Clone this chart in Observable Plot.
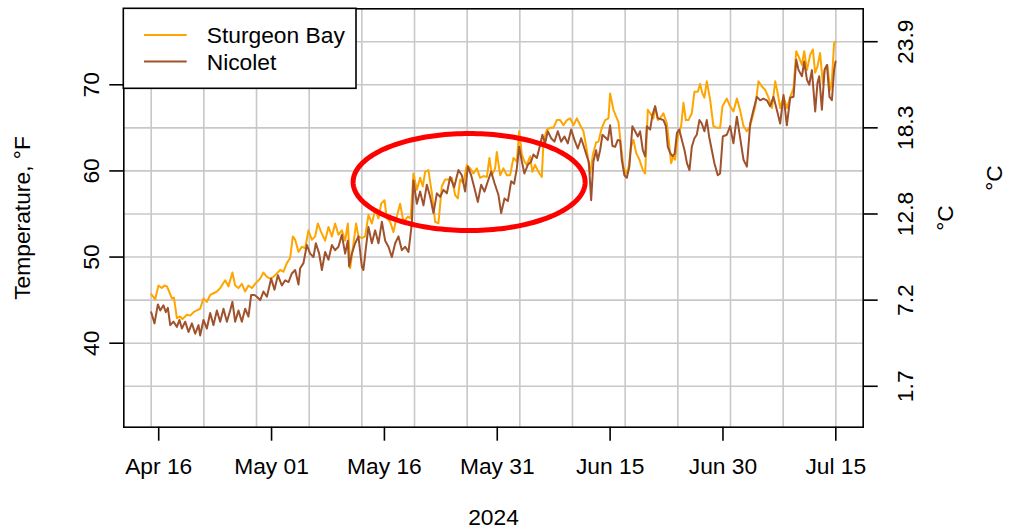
<!DOCTYPE html>
<html><head><meta charset="utf-8">
<script src="https://cdn.jsdelivr.net/npm/d3@7"></script>
<script src="https://cdn.jsdelivr.net/npm/@observablehq/plot@0.6"></script>
<style>
html,body{margin:0;padding:0;background:#fff;}
#wrap{position:relative;width:1018px;height:531px;}
#legend{position:absolute;left:0;top:0;pointer-events:none;}
</style></head><body><div id="wrap"></div>
<script>
// Day offsets measured from 2024-04-15 00:00 UTC
const sbDay = [0.0,0.53,0.97,1.42,1.77,2.09,2.39,2.75,3.02,3.42,3.85,4.16,4.74,5.18,5.62,6.07,6.51,6.95,7.40,7.84,8.28,8.73,9.17,9.83,10.27,10.80,11.16,11.60,12.05,12.49,12.93,13.38,13.82,14.49,14.92,15.38,15.82,16.25,16.71,17.14,17.58,18.03,18.47,18.83,19.14,19.58,20.03,20.47,20.90,21.36,21.80,22.15,22.59,23.12,23.56,24.02,24.45,24.89,25.34,25.78,26.14,26.45,26.89,27.24,27.55,28.00,28.44,28.88,29.33,29.77,30.21,30.57,31.01,31.32,31.76,32.20,32.65,33.09,33.53,34.12,34.49,34.86,35.31,35.75,36.11,36.41,36.85,37.31,37.74,38.18,38.63,39.07,39.51,39.96,40.40,40.76,41.07,41.50,41.96,42.40,42.83,43.29,43.72,44.16,44.62,44.96,45.28,45.72,45.94,46.38,46.82,47.27,47.71,48.15,48.60,48.91,49.27,49.61,49.93,50.37,50.67,51.03,51.47,51.92,52.14,52.59,53.03,53.47,53.92,54.36,54.80,55.25,55.69,56.13,56.58,57.02,57.46,57.91,58.35,58.71,59.14,59.45,59.90,60.34,60.78,61.00,61.44,61.80,62.11,62.46,62.77,63.09,63.43,63.79,64.10,64.46,64.90,65.35,65.66,66.01,66.32,66.76,66.98,67.34,67.78,68.09,68.54,68.84,69.11,69.42,69.64,70.00,70.44,70.75,71.07,71.41,71.86,72.21,72.66,72.96,73.27,73.53,73.85,74.29,74.73,75.18,75.62,75.93,76.51,76.95,77.39,77.85,78.29,78.73,79.18,79.62,80.29,80.72,81.18,81.62,82.06,82.51,82.95,83.28,83.61,84.05,84.51,84.94,85.38,85.74,86.05,86.50,86.80,87.16,87.60,87.95,88.25,88.56,88.91,89.27,89.57,89.88,90.24,90.46,90.77,90.97];
const sbTemp = [45.7,45.1,46.7,46.4,46.7,46.6,46.0,45.2,45.3,42.9,43.1,42.8,43.3,43.2,43.6,43.8,44.0,45.2,44.8,45.6,45.8,46.0,46.4,47.3,46.6,48.2,46.7,46.4,46.9,46.0,46.7,46.4,46.9,47.5,48.2,47.7,47.5,47.7,48.1,48.5,48.3,49.3,49.9,52.4,52.0,50.6,51.2,51.0,53.1,52.0,52.4,53.9,52.9,51.9,53.5,52.4,53.9,52.6,53.1,51.9,53.9,48.7,51.6,53.9,52.4,52.2,52.4,54.9,53.9,55.5,54.5,56.2,56.6,54.5,54.1,52.9,54.7,56.2,54.1,54.7,54.5,59.7,57.8,59.2,58.2,59.9,60.1,57.4,54.1,53.9,58.2,59.0,59.0,59.2,57.2,56.8,59.0,58.6,60.7,60.3,59.7,60.3,59.2,59.4,59.3,61.5,59.5,60.3,62.2,59.5,60.3,59.5,59.5,61.5,61.1,64.6,61.9,61.1,60.7,61.7,59.9,60.7,59.9,59.3,63.4,64.8,65.0,65.0,65.9,65.9,65.3,65.9,66.1,65.3,66.1,65.3,64.6,62.4,59.7,61.9,63.3,63.4,65.0,65.9,66.1,69.0,67.1,66.3,65.7,62.8,60.5,59.7,60.3,62.8,63.6,62.1,61.3,60.1,59.7,67.1,66.7,66.1,67.5,65.9,66.3,66.7,65.5,63.2,60.9,61.7,61.3,64.0,65.2,67.9,65.9,65.9,66.7,69.2,69.2,70.1,69.0,68.5,70.4,68.3,65.2,65.0,65.0,67.5,68.4,67.5,66.9,68.4,67.0,65.2,64.6,65.2,67.5,70.4,69.8,69.4,68.5,67.3,70.4,69.0,67.3,68.6,67.3,68.6,69.6,73.9,73.3,72.3,73.9,71.7,73.5,74.1,71.4,72.1,73.7,70.2,71.9,72.3,69.4,70.2,74.8,75.0];
const nicDay = [0.0,0.44,0.89,1.20,1.63,1.95,2.22,2.53,2.96,3.42,3.76,4.08,4.52,4.96,5.41,5.85,6.29,6.51,6.95,7.40,7.84,8.28,8.73,9.17,9.61,10.06,10.50,10.80,11.16,11.60,12.05,12.49,12.93,13.29,13.73,14.05,14.49,14.92,15.38,15.95,16.39,16.84,17.37,17.81,18.25,18.70,19.14,19.58,19.80,20.24,20.69,21.13,21.57,21.89,22.33,22.69,23.12,23.56,24.02,24.45,24.89,25.34,25.78,26.14,26.31,26.67,27.11,27.55,28.00,28.21,28.53,28.88,29.33,29.77,30.21,30.66,31.10,31.54,31.99,32.43,32.87,33.32,33.76,34.20,34.65,34.86,35.31,35.75,36.19,36.64,37.08,37.52,37.97,38.41,38.85,39.30,39.74,40.27,40.84,41.29,41.73,42.09,42.53,42.97,43.42,43.86,44.30,44.75,45.19,45.63,46.16,46.52,46.96,47.41,47.85,48.24,48.60,48.91,49.27,49.61,50.06,50.50,50.81,51.26,51.70,52.00,52.36,52.72,53.16,53.60,54.05,54.49,54.93,55.38,55.82,56.26,56.71,57.15,57.59,57.91,58.17,58.48,58.78,59.14,59.36,59.67,59.98,60.34,60.70,61.00,61.31,61.67,62.02,62.33,62.55,62.90,63.22,63.56,63.96,64.32,64.68,64.99,65.35,65.66,65.88,66.32,66.63,66.98,67.34,67.78,68.09,68.41,68.67,68.98,69.29,69.58,69.88,70.18,70.54,70.89,71.21,71.55,71.86,72.21,72.52,72.87,73.19,73.53,73.85,74.16,74.52,74.86,75.31,75.62,75.98,76.51,76.95,77.39,77.85,78.29,78.73,79.18,79.62,80.06,80.51,80.94,81.38,81.83,82.27,82.71,83.16,83.60,84.05,84.49,84.94,85.38,85.74,86.05,86.50,86.80,87.16,87.47,87.82,88.26,88.56,88.79,89.15,89.50,89.82,90.16,90.48,90.77,90.97];
const nicTemp = [43.6,42.3,44.5,43.8,44.4,43.6,44.1,42.1,42.5,41.9,42.7,41.7,42.5,41.3,42.3,41.1,42.1,40.9,42.7,41.7,43.5,42.1,43.8,42.5,44.0,42.5,43.8,44.8,42.5,43.8,42.5,44.0,43.1,45.6,45.6,45.4,45.0,46.0,45.4,47.5,46.2,47.9,46.7,47.3,47.1,48.1,48.5,46.8,48.7,49.3,51.4,50.4,50.0,51.6,50.4,48.5,50.6,49.7,51.4,50.8,51.2,52.6,50.4,51.9,48.9,50.4,51.6,52.4,48.9,48.5,51.0,53.5,51.6,53.1,51.6,54.1,51.9,51.2,50.0,51.6,52.4,50.8,51.2,50.6,53.9,58.9,56.2,57.6,56.0,58.4,57.0,55.1,57.4,57.0,57.8,57.4,59.3,58.1,60.1,59.5,57.6,60.5,59.5,58.0,56.4,58.4,57.6,58.8,59.9,58.6,57.2,55.1,56.8,56.5,58.8,58.5,60.3,62.8,61.1,59.7,60.7,61.1,61.9,61.5,63.0,64.2,63.2,64.6,63.8,63.4,64.6,63.4,64.0,63.2,64.8,63.6,62.6,63.8,62.6,61.7,61.0,56.6,61.1,62.4,61.2,62.4,64.2,63.9,63.6,65.3,62.9,62.8,63.6,63.5,61.3,59.5,59.2,60.5,65.2,64.6,64.0,64.6,62.4,61.7,65.2,64.8,66.5,67.5,66.1,66.0,65.9,65.2,62.8,62.1,61.7,62.0,64.4,64.8,63.6,62.4,60.9,60.1,62.8,63.8,64.2,65.9,65.5,64.6,65.9,64.0,62.4,60.9,59.5,59.7,64.0,64.2,65.2,63.2,66.3,63.8,61.3,60.5,65.5,67.1,68.6,68.2,68.4,68.2,67.5,68.6,67.1,65.5,68.8,65.3,68.5,68.6,72.9,71.7,71.0,72.7,70.6,70.0,71.7,66.9,70.2,71.0,67.1,71.7,72.3,68.6,68.2,71.7,72.7];

const seriesNames = ["Sturgeon Bay", "Nicolet"];
const seriesColors = ["#FFA500", "#A0522D"];

const fTicks = [40, 50, 60, 70];
const cTickF = [35, 45, 55, 65, 75];
const cTickLabels = ["1.7", "7.2", "12.8", "18.3", "23.9"];
const gridF = [35, 40, 45, 50, 55, 60, 65, 70, 75];
const gridDates = ["2024-04-15","2024-04-22","2024-04-29","2024-05-06","2024-05-13","2024-05-20","2024-05-27","2024-06-03","2024-06-10","2024-06-17","2024-06-24","2024-07-01","2024-07-08","2024-07-15"];
const xTickDates = ["2024-04-16","2024-05-01","2024-05-16","2024-05-31","2024-06-15","2024-06-30","2024-07-15"];
const xTickLabels = ["Apr 16","May 01","May 16","May 31","Jun 15","Jun 30","Jul 15"];

// highlight ellipse (in data units): center day, center °F, radius days, radius °F
const ellipseCenterDay = 42.26, ellipseCenterF = 58.71, ellipseRadDays = 15.42, ellipseRadF = 5.63;

const start = Date.UTC(2024, 3, 15);
const toDate = d => new Date(start + d * 864e5);
const sb = sbDay.map((d, i) => ({date: toDate(d), temp: sbTemp[i]}));
const nic = nicDay.map((d, i) => ({date: toDate(d), temp: nicTemp[i]}));
const ellipse = d3.range(0, 361, 2).map(a => {
  const t = a * Math.PI / 180;
  return {date: toDate(ellipseCenterDay + ellipseRadDays * Math.cos(t)), temp: ellipseCenterF + ellipseRadF * Math.sin(t)};
});
const xTicks = xTickDates.map((d, i) => ({date: new Date(d), label: xTickLabels[i]}));
const cTicks = cTickF.map((f, i) => ({f, label: cTickLabels[i]}));

const FS = 22.8;
const chart = Plot.plot({
  width: 1018, height: 531,
  marginLeft: 123.3, marginRight: 155.3, marginTop: 8.3, marginBottom: 104.3,
  style: {fontFamily: "'Liberation Sans', Arial, Helvetica, sans-serif", fontSize: FS + "px", color: "black", background: "white"},
  x: {type: "utc", domain: [toDate(-3.64), toDate(94.64)], axis: null},
  y: {domain: [30.25, 78.82], axis: null},
  marks: [
    Plot.ruleX(gridDates.map(d => new Date(d)), {stroke: "#c8c8c8", strokeWidth: 1.6}),
    Plot.ruleY(gridF, {stroke: "#c8c8c8", strokeWidth: 1.6}),
    Plot.line(sb, {x: "date", y: "temp", stroke: seriesColors[0], strokeWidth: 2}),
    Plot.line(nic, {x: "date", y: "temp", stroke: seriesColors[1], strokeWidth: 2}),
    Plot.line(ellipse, {x: "date", y: "temp", stroke: "#FF0000", strokeWidth: 5}),
    Plot.frame({stroke: "black", strokeWidth: 1.6}),
    Plot.axisX({ticks: xTickDates.map(d => new Date(d)), tickSize: 14, tickFormat: () => "", label: null, strokeWidth: 1.6}),
    Plot.axisY({ticks: fTicks, anchor: "left", tickSize: 14, tickFormat: () => "", label: null, strokeWidth: 1.6}),
    Plot.axisY({ticks: cTickF, anchor: "right", tickSize: 14, tickFormat: () => "", label: null, strokeWidth: 1.6}),
    Plot.text(xTicks, {x: "date", text: "label", frameAnchor: "bottom", dy: 40, lineAnchor: "middle", fontSize: FS}),
    Plot.text(fTicks, {y: d => d, text: d => String(d), frameAnchor: "left", dx: -32, rotate: -90, textAnchor: "middle", lineAnchor: "middle", fontSize: FS}),
    Plot.text(cTicks, {y: "f", text: "label", frameAnchor: "right", dx: 43, rotate: -90, textAnchor: "middle", lineAnchor: "middle", fontSize: FS}),
    Plot.text(["Temperature, °F"], {text: d => d, frameAnchor: "left", dx: -101, rotate: -90, textAnchor: "middle", lineAnchor: "middle", fontSize: FS}),
    Plot.text(["2024"], {text: d => d, frameAnchor: "bottom", dy: 91, textAnchor: "middle", lineAnchor: "middle", fontSize: FS}),
    Plot.text(["°C"], {text: d => d, frameAnchor: "right", dx: 83, rotate: -90, textAnchor: "middle", lineAnchor: "middle", fontSize: FS}),
    Plot.text(["°C"], {text: d => d, frameAnchor: "right", dx: 132, dy: -40, rotate: -90, textAnchor: "middle", lineAnchor: "middle", fontSize: FS})
  ]
});
const wrap = document.getElementById("wrap");
wrap.appendChild(chart);

// legend overlay
const ns = "http://www.w3.org/2000/svg";
const leg = document.createElementNS(ns, "svg");
leg.setAttribute("id", "legend");
leg.setAttribute("width", 1018);
leg.setAttribute("height", 531);
leg.style.fontFamily = "'Liberation Sans', Arial, Helvetica, sans-serif";
const mk = (tag, attrs, txt) => { const e = document.createElementNS(ns, tag); for (const k in attrs) e.setAttribute(k, attrs[k]); if (txt) e.textContent = txt; leg.appendChild(e); return e; };
mk("rect", {x: 123.3, y: 8.3, width: 232.7, height: 80, fill: "white", stroke: "black", "stroke-width": 1.6});
seriesNames.forEach((name, i) => {
  const yy = 35 + i * 26.5;
  mk("line", {x1: 144, x2: 186.7, y1: yy, y2: yy, stroke: seriesColors[i], "stroke-width": 2});
  mk("text", {x: 206.7, y: yy + 8.3, "font-size": FS, fill: "black"}, name);
});
wrap.appendChild(leg);
</script></body></html>
